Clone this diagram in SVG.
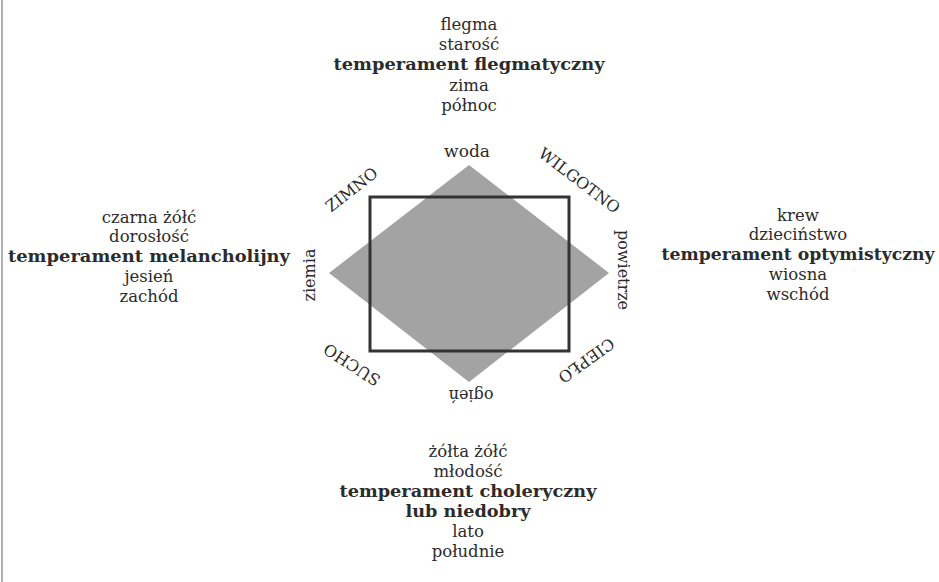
<svg xmlns="http://www.w3.org/2000/svg" width="939" height="582" viewBox="0 0 939 582">
<style>
text{font-family:"DejaVu Serif","Liberation Serif",serif;fill:#2b2b2b;font-size:16.5px;text-anchor:middle}
.b{font-weight:bold;font-size:17px}
.lbl{font-size:16px}
.cap{font-size:16px}
</style>
<rect width="939" height="582" fill="#fff"/>
<line x1="2" y1="0" x2="2" y2="582" stroke="#999" stroke-width="1.5"/>
<g id="shapes">
<polygon id="diamond" points="469,165 609,273 469,382 329,273" fill="#a3a3a3"/>
<rect id="square" x="370" y="197" width="199" height="154" fill="none" stroke="#333" stroke-width="3"/>
</g>
<g id="north">
<text x="469" y="29.5">flegma</text>
<text x="469" y="50">starość</text>
<text x="469" y="70" class="b" textLength="271" lengthAdjust="spacingAndGlyphs">temperament flegmatyczny</text>
<text x="469" y="90.5">zima</text>
<text x="469" y="110.5">północ</text>
</g>
<g id="west">
<text x="149" y="222.5">czarna żółć</text>
<text x="149" y="242">dorosłość</text>
<text x="149" y="262" class="b" textLength="282" lengthAdjust="spacingAndGlyphs">temperament melancholijny</text>
<text x="149" y="281.5">jesień</text>
<text x="149" y="301.5">zachód</text>
</g>
<g id="east">
<text x="798" y="220.5">krew</text>
<text x="798" y="240">dzieciństwo</text>
<text x="798" y="260" class="b" textLength="273" lengthAdjust="spacingAndGlyphs">temperament optymistyczny</text>
<text x="798" y="279.5">wiosna</text>
<text x="798" y="299.5">wschód</text>
</g>
<g id="south">
<text x="468" y="456.5">żółta żółć</text>
<text x="468" y="476.5">młodość</text>
<text x="468" y="496.5" class="b" textLength="257" lengthAdjust="spacingAndGlyphs">temperament choleryczny</text>
<text x="468" y="516.5" class="b" textLength="125" lengthAdjust="spacingAndGlyphs">lub niedobry</text>
<text x="468" y="536.5">lato</text>
<text x="468" y="556.5">południe</text>
</g>
<g id="elements">
<text class="lbl" x="467" y="156.5" style="font-size:17px">woda</text>
<text class="lbl" transform="translate(315,275) rotate(-90)">ziemia</text>
<text class="lbl" transform="translate(618,270) rotate(90)">powietrze</text>
<text class="lbl" transform="translate(471,390) rotate(180)">ogień</text>
</g>
<g id="qualities">
<text class="cap" transform="translate(355,194) rotate(-38)">ZIMNO</text>
<text class="cap" transform="translate(576,185) rotate(37)">WILGOTNO</text>
<text class="cap" transform="translate(355,360) rotate(213)">SUCHO</text>
<text class="cap" transform="translate(583,356) rotate(144)">CIEPŁO</text>
</g>
</svg>
